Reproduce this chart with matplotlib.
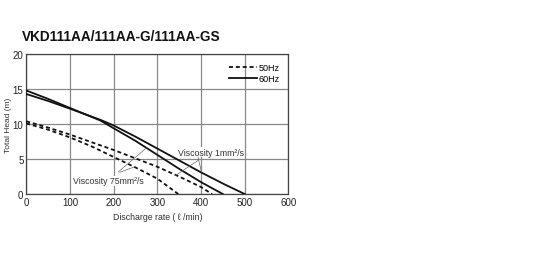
import matplotlib.pyplot as plt

plt.rcParams["font.family"] = ["Liberation Sans", "DejaVu Sans"]

# 60Hz curves (solid)
q60_w = [0, 50, 100, 170, 200, 250, 300, 350, 400, 450, 500]
h60_w = [14.3, 13.3, 12.2, 10.6, 9.8, 8.2, 6.5, 4.8, 3.1, 1.5, 0.0]
q60_v = [0, 50, 100, 170, 200, 250, 300, 350, 400, 450]
h60_v = [14.8, 13.6, 12.3, 10.5, 9.4, 7.6, 5.6, 3.6, 1.7, 0.0]

# 50Hz curves (dashed)
q50_w = [0, 50, 100, 150, 200, 250, 300, 350, 400, 425]
h50_w = [10.4, 9.5, 8.5, 7.4, 6.3, 5.1, 3.9, 2.5, 1.0, 0.0]
q50_v = [0, 50, 100, 150, 200, 250, 300, 348]
h50_v = [10.1, 9.2, 8.1, 6.8, 5.3, 3.8, 2.2, 0.0]

xticks = [0, 100, 200, 300, 400, 500, 600]
yticks = [0, 5, 10, 15, 20]

fig = plt.figure(figsize=(5.58, 2.55), dpi=100)
ax = fig.add_axes([0.047, 0.235, 0.470, 0.549])

ax.plot(q60_w, h60_w, color="#111111", lw=1.3, label="60Hz", zorder=3)
ax.plot(q60_v, h60_v, color="#111111", lw=1.3, zorder=3)
ax.plot(q50_w, h50_w, color="#111111", lw=1.3, ls=(0, (2.2, 1.6)), label="50Hz", zorder=3)
ax.plot(q50_v, h50_v, color="#111111", lw=1.3, ls=(0, (2.2, 1.6)), zorder=3)

box = dict(facecolor="white", edgecolor="none", pad=0.5)
ax.annotate("Viscosity 1mm²/s", xy=(340, 2.6), xytext=(422, 6.0),
            ha="center", va="center", fontsize=6.3, color="#333333", bbox=box,
            arrowprops=dict(arrowstyle="-", lw=0.5, color="#666666",
                            shrinkA=4, shrinkB=0), zorder=4)
ax.annotate("", xy=(401, 3.1), xytext=(393, 5.3),
            arrowprops=dict(arrowstyle="-", lw=0.5, color="#666666",
                            shrinkA=0, shrinkB=0), zorder=4)
ax.annotate("Viscosity 75mm²/s", xy=(275, 6.6), xytext=(187, 1.9),
            ha="center", va="center", fontsize=6.3, color="#333333", bbox=box,
            arrowprops=dict(arrowstyle="-", lw=0.5, color="#666666",
                            shrinkA=4, shrinkB=0), zorder=4)
ax.annotate("", xy=(248, 3.9), xytext=(214, 3.1),
            arrowprops=dict(arrowstyle="-", lw=0.5, color="#666666",
                            shrinkA=0, shrinkB=0), zorder=4)

ax.set_xlim(0, 600)
ax.set_ylim(0, 20)
ax.set_xticks(xticks)
ax.set_yticks(yticks)
ax.tick_params(labelsize=7, length=0, pad=2, colors="#222222")
ax.grid(True, color="#888888", lw=0.9)
for s in ax.spines.values():
    s.set_color("#444444")
    s.set_linewidth(0.9)

ax.set_xlabel("Discharge rate ( \u2113 /min)", fontsize=6.3, labelpad=4, color="#333333")
ax.set_ylabel("Total Head (m)", fontsize=6.0, color="#333333")
ax.yaxis.set_label_coords(-0.055, 0.5)

handles, labels = ax.get_legend_handles_labels()
leg = ax.legend(handles[::-1], labels[::-1], loc="upper right", fontsize=6.5,
                frameon=False, handlelength=3.2, handletextpad=0.1,
                labelspacing=0.25, borderaxespad=0.6)

fig.text(0.039, 0.855, "VKD111AA/111AA-G/111AA-GS", fontsize=9.8,
         fontweight="bold", color="#111111", va="center")

fig.savefig("out.png", dpi=100)
